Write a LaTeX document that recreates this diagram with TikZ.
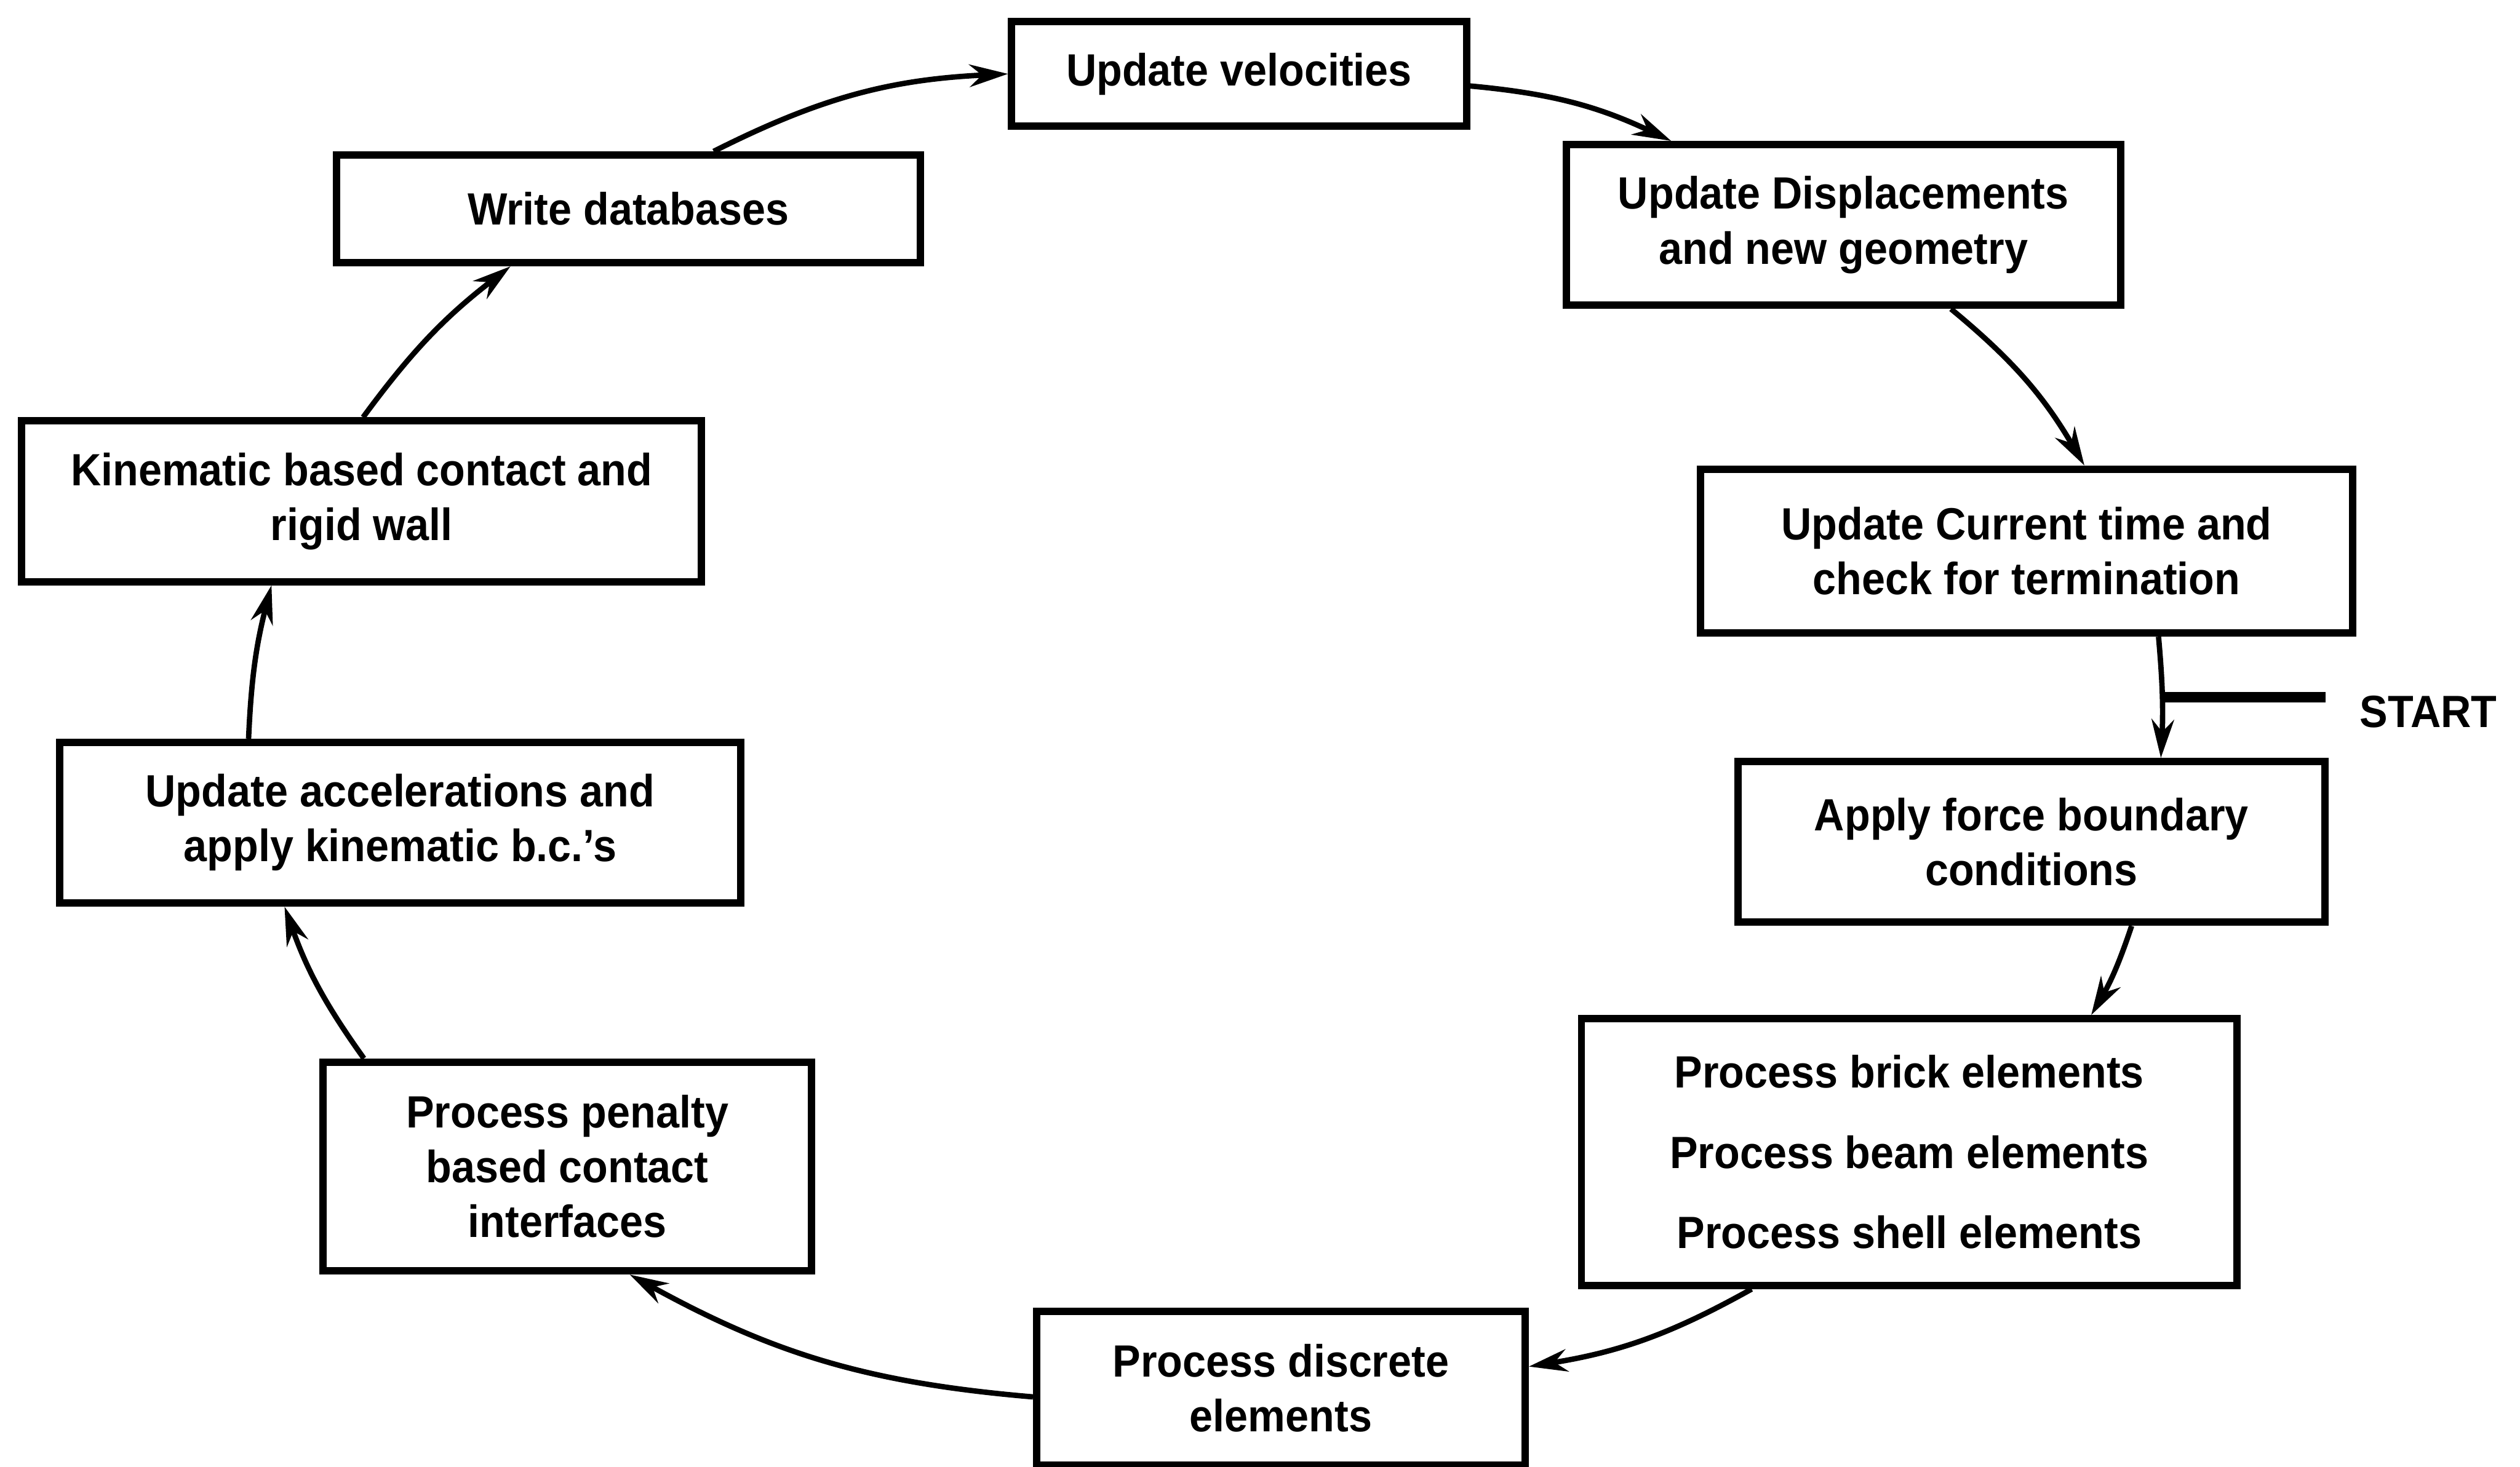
\documentclass[tikz,border=0pt]{standalone}
\usepackage{fontspec}
\setmainfont{Liberation Sans}[FakeStretch=0.93]
\usetikzlibrary{arrows.meta}

\begin{document}
\begin{tikzpicture}
\tikzstyle{box}=[draw, line width=1.3pt, align=center, inner sep=0pt, font=\bfseries\fontsize{8}{9.7}\selectfont]
\tikzstyle{flow}=[-{Stealth[length=2.4mm, width=1.4mm]}, line width=0.95pt]
\useasboundingbox (0,0) rectangle (15.68,9.13);
\node[box, minimum width=2.83cm, minimum height=0.65cm] (vel) at (7.71,8.67) {Update velocities};
\node[box, minimum width=3.45cm, minimum height=1.00cm] (disp) at (11.47,7.73) {Update Displacements\\and new geometry};
\node[box, minimum width=4.06cm, minimum height=1.02cm] (cur) at (12.61,5.70) {Update Current time and\\check for termination};
\node[box, minimum width=3.65cm, minimum height=1.00cm] (force) at (12.64,3.89) {Apply force boundary\\conditions};
\node[box, minimum width=4.08cm, minimum height=1.66cm] (brick) at (11.88,1.96) {Process brick elements\\[4.5pt]Process beam elements\\[4.5pt]Process shell elements};
\node[box, minimum width=3.04cm, minimum height=0.96cm] (disc) at (7.97,0.49) {Process discrete\\elements};
\node[box, minimum width=3.04cm, minimum height=1.30cm] (pen) at (3.53,1.87) {Process penalty\\based contact\\interfaces};
\node[box, minimum width=4.24cm, minimum height=1.00cm] (acc) at (2.49,4.01) {Update accelerations and\\apply kinematic b.c.'s};
\node[box, minimum width=4.23cm, minimum height=1.00cm] (kin) at (2.25,6.01) {Kinematic based contact and\\rigid wall};
\node[box, minimum width=3.63cm, minimum height=0.67cm] (write) at (3.91,7.83) {Write databases};
% time step loop
\draw[flow] (write.34) to[bend left=12] (vel.west);
\draw[flow] (vel.-3) to[bend left=10] (disp.154);
\draw[flow] (disp.-38) to[bend left=10] (cur.56);
\draw[flow] (cur.-33) to[bend left=4] coordinate[pos=0.5] (join) (force.33);
\draw[flow] (force.-40) to[bend left=6] (brick.37);
\draw[flow] (brick.-139) to[bend left=10] (disc.5);
\draw[flow] (disc.182) to[bend left=12] (pen.-60);
\draw[flow] (pen.152) to[bend left=8] (acc.216);
\draw[flow] (acc.151) to[bend left=6] (kin.223);
\draw[flow] (kin.89) to[bend left=8] (write.206);
% entry point
\node[font=\bfseries\fontsize{8}{9.7}\selectfont, anchor=west] (startlbl) at (14.56,4.70) {START};
\coordinate (startend) at (14.47,4.79);
\draw[line width=1.8pt] (startend) -- (startend -| join);
\end{tikzpicture}
\end{document}
